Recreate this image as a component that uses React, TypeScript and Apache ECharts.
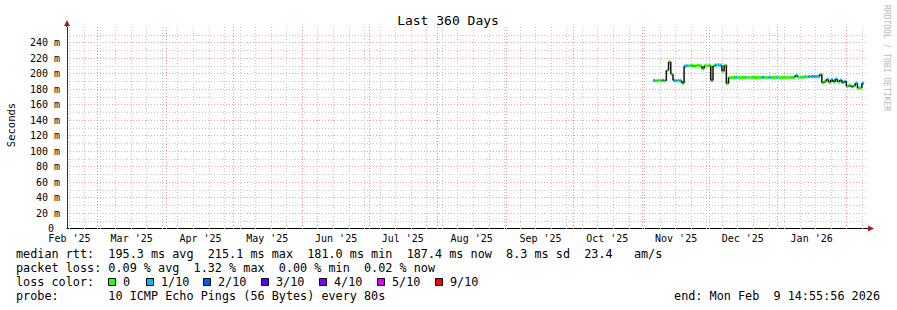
import React, { useEffect, useRef } from 'react';
import * as echarts from 'echarts';

const MONO = '"DejaVu Sans Mono", monospace';

// day index counted from 2025-01-01
const dayOf = (y: number, m: number, d: number) => (Date.UTC(y, m - 1, d) - Date.UTC(2025, 0, 1)) / 86400000;

// ---- axis / tick data ----
const axisStartDay = 45.3;
const axisEndDay = 405.3;
const yMin = 0;
const yMax = 260;
const yInterval = 20;

const monthLabels = ["Feb '25", "Mar '25", "Apr '25", "May '25", "Jun '25", "Jul '25", "Aug '25", "Sep '25", "Oct '25", "Nov '25", "Dec '25", "Jan '26"];
const monthLabelYM: [number, number][] = [[2025, 2], [2025, 3], [2025, 4], [2025, 5], [2025, 6], [2025, 7], [2025, 8], [2025, 9], [2025, 10], [2025, 11], [2025, 12], [2026, 1]];
const monthGridYM: [number, number][] = [[2025, 3], [2025, 4], [2025, 5], [2025, 6], [2025, 7], [2025, 8], [2025, 9], [2025, 10], [2025, 11], [2025, 12], [2026, 1], [2026, 2]];
const firstSunday: [number, number, number] = [2025, 2, 16];
const lastSunday: [number, number, number] = [2026, 2, 8];

// ---- series data (one value per day) ----
const firstDataDate: [number, number, number] = [2025, 11, 6];
const medianRtt = [
  191.0, 190.5, 191.0, 190.8, 191.2, 190.5, 204.0, 215.1, 199.0, 191.0,
  190.5, 191.0, 190.5, 187.5, 209.5, 210.0, 209.8, 210.2, 209.5, 210.0,
  210.3, 209.8, 206.0, 210.0, 209.8, 210.2, 191.0, 210.0, 211.0, 211.0,
  210.8, 203.0, 210.5, 187.0,
  194.8, 195.0, 194.9, 195.1, 195.0, 194.8, 195.0, 195.1, 194.9, 195.0,
  194.8, 195.0, 195.1, 194.9, 195.0, 195.2, 195.0, 194.8, 195.1, 195.0,
  194.9, 195.0, 195.1, 194.9, 195.0, 194.8, 195.0, 195.2, 195.0, 195.1,
  197.5, 195.3, 195.2, 195.4, 195.6, 195.5,
  196.2, 196.2, 196.3, 196.2, 196.1, 199.0, 188.0,
  189.5, 192.5, 188.5, 192.0, 189.0, 193.0, 189.0, 191.5, 188.0, 190.0,
  183.5, 184.5, 183.0, 184.0, 187.5, 181.0, 181.5, 187.4
];
const lossTenths = [
  1, 0, 0, 0, 1, 0, 0, 0, 0, 1,
  1, 0, 1, 0, 1, 1, 0, 0, 0, 0,
  0, 0, 0, 0, 0, 0, 1, 0, 1, 1,
  1, 0, 0, 0,
  0, 0, 0, 1, 0, 0, 0, 0, 0, 0,
  0, 0, 0, 0, 0, 1, 0, 0, 1, 0,
  0, 1, 0, 0, 0, 0, 0, 0, 0, 0,
  1, 0, 0, 0, 1, 0,
  1, 1, 1, 1, 1, 0, 0,
  0, 1, 0, 1, 0, 1, 0, 1, 0, 1,
  0, 0, 1, 0, 1, 0, 0, 1
];

const lossColors: Record<number, string> = {
  0: '#26ff00', 1: '#00b8ff', 2: '#0059ff', 3: '#5e00ff', 4: '#7e00ff', 5: '#dd00ff', 9: '#ff0000', 10: '#ff0000'
};
const lossLegendLabels = ['0', '1/10', '2/10', '3/10', '4/10', '5/10', '9/10'];
const lossLegendKeys = [0, 1, 2, 3, 4, 5, 9];

const titleText = 'Last 360 Days';
const yAxisTitle = 'Seconds';
const statLine1 = 'median rtt:  195.3 ms avg  215.1 ms max  181.0 ms min  187.4 ms now  8.3 ms sd  23.4   am/s';
const statLine2 = 'packet loss: 0.09 % avg  1.32 % max  0.00 % min  0.02 % now';
const lossLine = 'loss color:';
const probeLine = 'probe:       10 ICMP Echo Pings (56 Bytes) every 80s';
const endLine = 'end: Mon Feb  9 14:55:56 2026';
const watermark = 'RRDTOOL / TOBI OETIKER';

const LEG_FONT = `11.8px ${MONO}`;

export default function App() {
  const ref = useRef<HTMLDivElement>(null);

  useEffect(() => {
    if (!ref.current) return;
    const chart = echarts.init(ref.current, undefined, { renderer: 'svg' });

    const monthMid = monthLabelYM.map(([y, m]) => dayOf(y, m, 1) + 15.4);
    const monthGrid = monthGridYM.map(([y, m]) => dayOf(y, m, 1));
    const weekGrid: number[] = [];
    for (let d = dayOf(...firstSunday); d <= dayOf(...lastSunday); d += 7) weekGrid.push(d);
    const d0 = dayOf(...firstDataDate);
    const seriesData = medianRtt.map((v, i) => [d0 + i, v, lossTenths[i], i > 0 ? medianRtt[i - 1] : v]);

    const vGrid = (color: string) => (params: any, api: any) => {
      const d = api.value(0);
      const pb = api.coord([d, yMin]);
      const pt = api.coord([d, yMax]);
      const x = Math.round(pb[0]) + 0.5;
      return {
        type: 'line',
        silent: true,
        shape: { x1: x, y1: pt[1], x2: x, y2: pb[1] + 2 },
        style: { stroke: color, lineWidth: 1, lineDash: [1, 2] }
      };
    };

    const legendGraphics: any[] = [];
    const sqX = [108, 146, 203, 261, 319, 377, 435];
    lossLegendKeys.forEach((k, i) => {
      legendGraphics.push({
        type: 'rect', shape: { x: sqX[i] + 0.5, y: 278.5, width: 7, height: 7 },
        style: { fill: lossColors[k], stroke: '#000', lineWidth: 1 }
      });
      legendGraphics.push({
        type: 'text', x: sqX[i] + 15, y: 282,
        style: { text: lossLegendLabels[i], font: LEG_FONT, fill: '#000', verticalAlign: 'middle', align: 'left' }
      });
    });

    chart.setOption({
      animation: false,
      backgroundColor: '#fff',
      grid: { left: 67, right: 30, top: 27, bottom: 81.5, containLabel: false },
      xAxis: {
        type: 'value',
        min: axisStartDay,
        max: axisEndDay,
        splitLine: { show: false },
        axisTick: { show: false },
        axisLine: { show: true, lineStyle: { color: '#000', width: 1 } },
        axisLabel: {
          customValues: monthMid,
          formatter: (v: number) => {
            const i = monthMid.findIndex((m) => Math.abs(m - v) < 0.01);
            return i >= 0 ? monthLabels[i] : '';
          },
          fontFamily: MONO, fontSize: 10, color: '#000', margin: 5
        }
      },
      yAxis: {
        type: 'value',
        min: yMin,
        max: yMax,
        interval: yInterval,
        axisLine: { show: true, lineStyle: { color: '#333', width: 1 } },
        axisTick: { show: false },
        axisLabel: {
          formatter: (v: number) => (v === 0 ? '{z|0}' : `${v} m`),
          rich: { z: { padding: [0, 6, 0, 0], fontFamily: MONO, fontSize: 10, color: '#000' } },
          fontFamily: MONO, fontSize: 10, color: '#000', margin: 7, showMaxLabel: false
        },
        splitLine: { show: true, showMaxLine: false, lineStyle: { color: '#f0a0a0', width: 1, type: [1, 2] } },
        minorTick: { show: false, splitNumber: 2 },
        minorSplitLine: { show: true, lineStyle: { color: '#c8c8c8', width: 1, type: [1, 2] } }
      },
      series: [
        { type: 'custom', name: 'week', silent: true, z: 1, clip: false, data: weekGrid.map((d) => [d, 0]), renderItem: vGrid('#c8c8c8') },
        { type: 'custom', name: 'month', silent: true, z: 2, clip: false, data: monthGrid.map((d) => [d, 0]), renderItem: vGrid('#f09090') },
        {
          type: 'custom', name: 'median rtt', z: 5, clip: false, data: seriesData,
          renderItem: (params: any, api: any) => {
            const d = api.value(0), m = api.value(1), loss = api.value(2), prev = api.value(3);
            const p0 = api.coord([d, m]);
            const p1 = api.coord([d + 1, m]);
            const pp = api.coord([d, prev]);
            return {
              type: 'group',
              children: [
                { type: 'line', shape: { x1: p0[0], y1: p0[1], x2: p1[0], y2: p1[1] }, style: { stroke: lossColors[loss] || '#ff0000', lineWidth: 3 } },
                { type: 'line', shape: { x1: p0[0], y1: pp[1], x2: p0[0], y2: p0[1] }, style: { stroke: '#111', lineWidth: 1.5 } }
              ]
            };
          }
        }
      ],
      graphic: [
        { type: 'text', x: 448, y: 20, style: { text: titleText, font: `13px ${MONO}`, fill: '#000', align: 'center', verticalAlign: 'middle' } },
        { type: 'text', x: 11, y: 125, rotation: Math.PI / 2, style: { text: yAxisTitle, font: `10.5px ${MONO}`, fill: '#000', align: 'center', verticalAlign: 'middle' } },
        { type: 'text', x: 886, y: 58, rotation: -Math.PI / 2, style: { text: watermark, font: `8px ${MONO}`, fill: '#b8b8b8', align: 'center', verticalAlign: 'middle' } },
        { type: 'line', shape: { x1: 66.5, y1: 27, x2: 66.5, y2: 24 }, style: { stroke: '#333', lineWidth: 1 } },
        { type: 'polygon', shape: { points: [[67, 20], [64, 26], [70, 26]] }, style: { fill: '#a02020' } },
        { type: 'line', shape: { x1: 867, y1: 228.5, x2: 869, y2: 228.5 }, style: { stroke: '#000', lineWidth: 1 } },
        { type: 'polygon', shape: { points: [[874, 228.5], [868, 225.5], [868, 231.5]] }, style: { fill: '#a02020' } },
        { type: 'text', x: 16, y: 254, style: { text: statLine1, font: LEG_FONT, fill: '#000', verticalAlign: 'middle' } },
        { type: 'text', x: 16, y: 268, style: { text: statLine2, font: LEG_FONT, fill: '#000', verticalAlign: 'middle' } },
        { type: 'text', x: 16, y: 282, style: { text: lossLine, font: LEG_FONT, fill: '#000', verticalAlign: 'middle' } },
        ...legendGraphics,
        { type: 'text', x: 16, y: 296, style: { text: probeLine, font: LEG_FONT, fill: '#000', verticalAlign: 'middle' } },
        { type: 'text', x: 880, y: 296, style: { text: endLine, font: LEG_FONT, fill: '#000', verticalAlign: 'middle', align: 'right' } }
      ]
    });

    return () => chart.dispose();
  }, []);

  return <div ref={ref} style={{ position: 'fixed', left: 0, top: 0, width: 897, height: 310, background: '#fff' }} />;
}
